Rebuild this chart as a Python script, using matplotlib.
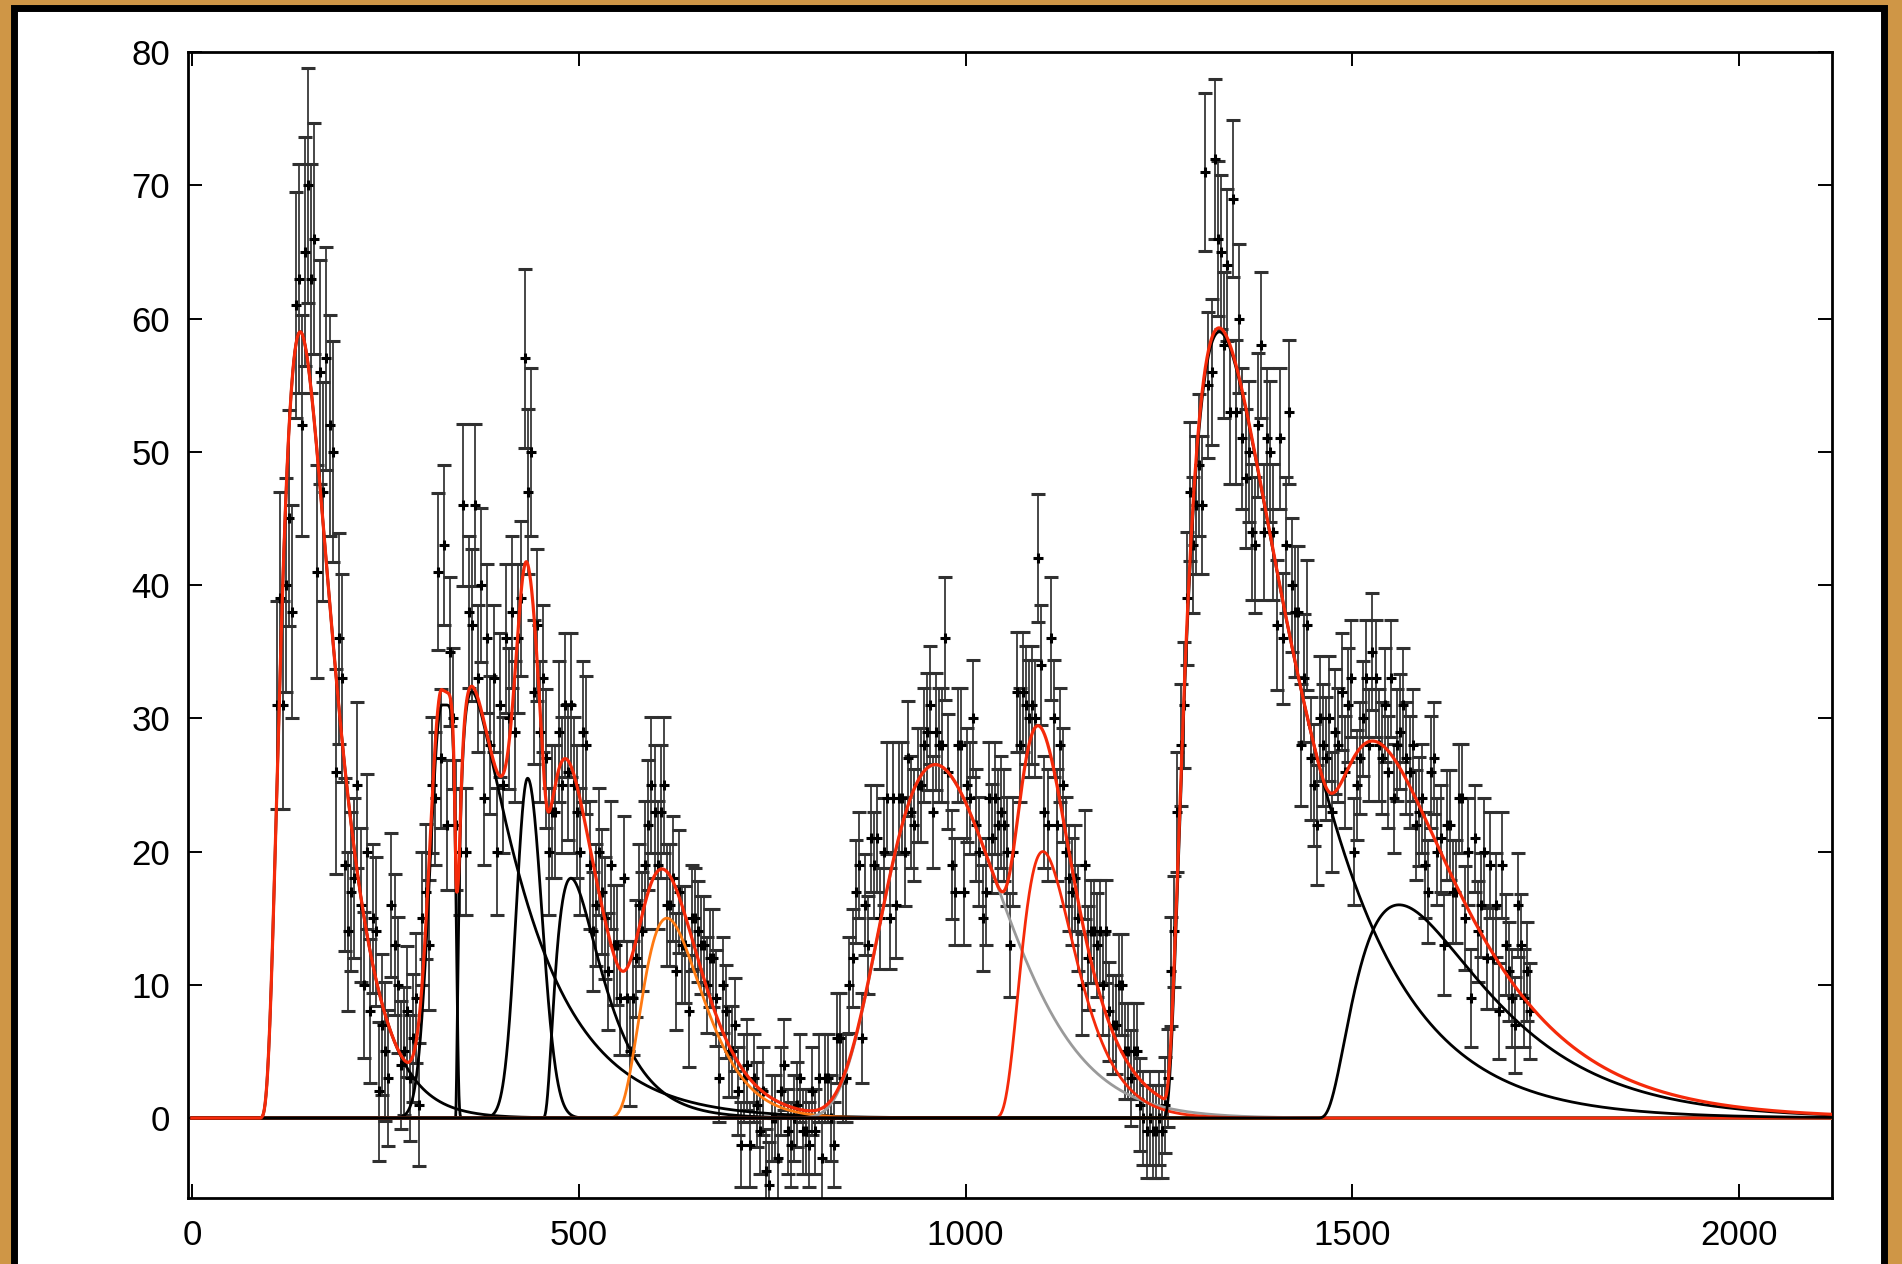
import numpy as np
import matplotlib.pyplot as plt
from matplotlib.patches import Rectangle

plt.rcParams['font.family'] = ['Liberation Sans', 'DejaVu Sans']

# binned light curve: first bin centre and bin width
bin_start = 110
bin_width = 4

counts = [
    # 110 - 206
    31, 39, 31, 40, 45, 38, 61, 63, 52, 65, 70, 63, 66, 41, 56, 47, 57, 52, 50, 26, 36, 33, 19, 14, 17,
    # 210 - 306
    18, 25, 16, 10, 20, 8, 15, 14, 2, 7, 5, 3, 16, 13, 10, 4, 5, 8, 3, 6, 9, 1, 15, 17, 13,
    # 310 - 406
    25, 24, 41, 27, 43, 22, 35, 30, 22, 20, 46, 20, 38, 37, 46, 33, 40, 24, 36, 28, 33, 20, 31, 25, 36,
    # 410 - 506
    30, 38, 29, 36, 39, 57, 47, 50, 32, 37, 29, 33, 27, 20, 23, 23, 29, 25, 31, 26, 31, 25, 23, 20, 29,
    # 510 - 606
    28, 19, 14, 16, 20, 17, 15, 11, 19, 13, 13, 9, 18, 9, 5, 9, 12, 16, 14, 19, 22, 25, 23, 19, 23,
    # 610 - 706
    25, 16, 16, 18, 11, 17, 13, 13, 8, 15, 15, 14, 13, 13, 10, 12, 12, 9, 3, 10, 8, 5, 5, 7, 2,
    # 710 - 806
    -2, 3, 4, -2, 3, 1, -1, 2, -4, -5, 0, 0, -3, 2, 4, -1, -2, 0, 1, 3, -1, -1, -2, 2, -1,
    # 810 - 906
    3, -3, 3, 3, 0, -2, 6, 6, 3, 3, 10, 12, 17, 19, 6, 16, 13, 21, 19, 21, 15, 20, 24, 15, 24,
    # 910 - 1006
    16, 24, 24, 20, 27, 23, 22, 25, 25, 28, 29, 31, 23, 29, 28, 28, 36, 26, 19, 17, 28, 28, 17, 25, 24,
    # 1010 - 1106
    30, 22, 20, 15, 17, 24, 21, 24, 22, 23, 22, 20, 13, 20, 32, 28, 32, 31, 30, 31, 30, 42, 34, 23, 22,
    # 1110 - 1206
    36, 30, 22, 28, 25, 20, 18, 17, 18, 15, 10, 19, 12, 14, 14, 13, 14, 10, 14, 8, 7, 7, 10, 10, 5,
    # 1210 - 1306
    5, 3, 5, 5, 1, 0, -1, 0, -1, -1, 0, -1, 1, 3, 11, 14, 23, 28, 31, 39, 47, 43, 46, 49, 46,
    # 1310 - 1406
    71, 55, 56, 72, 66, 65, 58, 64, 53, 69, 53, 60, 51, 48, 50, 44, 43, 52, 58, 44, 51, 50, 44, 37, 51,
    # 1410 - 1506
    36, 43, 53, 40, 38, 38, 28, 33, 37, 27, 25, 22, 30, 28, 27, 30, 23, 29, 28, 32, 26, 31, 33, 20, 25,
    # 1510 - 1606
    27, 30, 33, 28, 35, 33, 28, 27, 31, 26, 33, 24, 28, 29, 31, 27, 26, 28, 22, 23, 24, 19, 17, 26, 27,
    # 1610 - 1706
    20, 21, 13, 22, 22, 17, 17, 24, 24, 15, 20, 9, 21, 14, 16, 20, 12, 19, 12, 16, 8, 19, 13, 11, 9,
    # 1710 - 1730
    7, 16, 13, 9, 11, 8,
]

count_errors = [
    7.8, 8.0, 7.8, 8.0, 8.1, 8.0, 8.5, 8.6, 8.3, 8.6, 8.8, 8.6, 8.7, 8.0, 8.4, 8.2, 8.4, 8.3, 8.3, 7.7, 7.9, 7.8, 6.5, 6.0, 6.0,
    6.0, 6.2, 5.8, 5.5, 5.8, 5.4, 5.6, 5.6, 5.2, 5.3, 5.2, 5.1, 5.4, 5.3, 5.1, 4.8, 4.8, 4.9, 4.7, 4.8, 4.9, 4.6, 5.0, 5.1, 4.9,
    5.1, 5.0, 5.9, 5.2, 6.0, 4.9, 5.6, 5.3, 4.9, 4.8, 6.1, 4.8, 5.7, 5.7, 6.1, 5.5, 5.8, 5.0, 5.6, 5.2, 5.5, 4.8, 5.4, 5.1, 5.6,
    5.3, 5.7, 5.3, 5.6, 5.8, 6.7, 6.2, 6.3, 5.4, 5.7, 5.3, 5.5, 5.2, 4.8, 5.0, 5.0, 5.3, 5.1, 5.4, 5.1, 5.4, 5.1, 5.0, 4.8, 5.3,
    5.2, 4.8, 4.5, 4.6, 4.8, 4.7, 4.6, 4.4, 4.8, 4.5, 4.5, 4.3, 4.7, 4.3, 4.1, 4.3, 4.4, 4.6, 4.5, 4.8, 4.9, 5.1, 5.0, 4.8, 5.0,
    5.1, 4.6, 4.6, 4.7, 4.4, 4.6, 4.4, 4.4, 4.2, 4.0, 3.8, 3.8, 3.7, 3.7, 3.6, 3.7, 3.7, 3.6, 3.3, 3.6, 3.5, 3.4, 3.4, 3.5, 3.3,
    3.2, 3.3, 3.4, 3.2, 3.3, 3.2, 3.2, 3.3, 3.2, 3.2, 3.2, 3.2, 3.2, 3.3, 3.4, 3.2, 3.2, 3.2, 3.2, 3.3, 3.2, 3.2, 3.2, 3.3, 3.2,
    3.3, 3.2, 3.3, 3.3, 3.2, 3.2, 3.4, 3.4, 3.3, 3.3, 3.6, 3.7, 3.9, 4.0, 3.4, 3.8, 3.7, 4.0, 4.0, 4.0, 3.8, 4.0, 4.2, 3.8, 4.2,
    4.0, 4.2, 4.2, 4.1, 4.3, 4.2, 4.2, 4.3, 4.3, 4.3, 4.4, 4.4, 4.2, 4.4, 4.3, 4.3, 4.6, 4.3, 4.1, 4.0, 4.3, 4.3, 4.0, 4.3, 4.2,
    4.4, 4.2, 4.1, 4.0, 4.0, 4.2, 4.1, 4.2, 4.2, 4.2, 4.2, 4.1, 3.9, 4.1, 4.5, 4.3, 4.5, 4.4, 4.4, 4.4, 4.4, 4.8, 4.5, 4.2, 4.2,
    4.6, 4.4, 4.2, 4.3, 4.3, 4.1, 4.0, 4.0, 4.0, 4.0, 3.8, 4.1, 3.9, 3.9, 3.9, 3.9, 3.9, 3.8, 3.9, 3.7, 3.7, 3.7, 3.8, 3.8, 3.6,
    3.6, 3.6, 3.6, 3.6, 3.5, 3.5, 3.5, 3.5, 3.5, 3.5, 3.5, 3.5, 3.6, 3.7, 4.1, 4.2, 4.5, 4.6, 4.7, 5.0, 5.2, 5.1, 5.2, 5.3, 5.2,
    5.9, 5.5, 5.5, 6.0, 5.8, 5.8, 5.5, 5.7, 5.4, 5.9, 5.4, 5.6, 5.3, 5.2, 5.3, 5.1, 5.1, 5.4, 5.5, 5.1, 5.3, 5.3, 5.1, 4.9, 5.3,
    4.9, 5.1, 5.4, 5.0, 4.9, 4.9, 4.6, 4.8, 4.9, 4.6, 4.6, 4.5, 4.7, 4.6, 4.6, 4.7, 4.5, 4.7, 4.3, 4.4, 4.2, 4.3, 4.4, 4.0, 4.1,
    4.2, 4.3, 4.4, 4.2, 4.4, 4.4, 4.2, 4.2, 4.3, 4.2, 4.4, 4.1, 4.2, 4.3, 4.3, 4.2, 4.2, 4.2, 4.1, 4.1, 4.1, 4.0, 3.9, 4.2, 4.2,
    4.0, 4.0, 3.8, 4.1, 4.1, 3.9, 3.9, 4.1, 4.1, 3.9, 4.0, 3.7, 4.0, 3.8, 3.9, 4.0, 3.8, 4.0, 3.8, 3.9, 3.6, 4.0, 3.8, 3.7, 3.7,
    3.6, 3.9, 3.8, 3.7, 3.7, 3.6,
]

# fitted pulse components, in drawing order
# kind "norris": start, amplitude, rise, decay
# kind "bump": peak time, amplitude, rise width, decay width, decay sharpness
pulse_kind = ["norris", "bump", "norris", "bump", "norris", "norris", "norris", "norris", "norris", "norris"]
pulse_p1 = [80, 323, 340, 434, 450, 515, 700, 1022, 1250, 1445]
pulse_p2 = [59, 31, 32, 25.5, 18, 15, 26.5, 20, 59, 16]
pulse_p3 = [103, 21.6, 6, 21, 40, 327, 1514, 203, 61, 121]
pulse_p4 = [35, 19.5, 80, 26, 40, 30, 45, 30, 100, 110]
pulse_p5 = [0, 8, 0, 2, 0, 0, 0, 0, 0, 0]
pulse_color = ["black", "black", "black", "black", "black", "#ff7a12", "#9a9a9a", "#f52a0a", "black", "black"]

total_color = "#f52a0a"


def norris(t, start, amp, rise, decay):
    dt = np.clip(t - start, 1e-9, None)
    lam = np.exp(2.0 * np.sqrt(rise / decay))
    value = amp * lam * np.exp(-rise / dt - dt / decay)
    return np.where(t > start, value, 0.0)


def bump(t, peak, amp, rise_w, decay_w, sharp):
    left = amp * np.exp(-((peak - t) / rise_w) ** 2)
    right = amp * np.exp(-(np.abs(t - peak) / decay_w) ** sharp)
    return np.where(t < peak, left, right)


def main():
    fig = plt.figure(figsize=(19.02, 12.64), dpi=100)
    fig.patch.set_facecolor("#cf9646")

    # white card with a black rim, kept behind the axes
    card = Rectangle((14 / 1902, -0.02), (1884 - 14) / 1902, 1.02 - 8 / 1264,
                     transform=fig.transFigure, facecolor="white",
                     edgecolor="black", linewidth=5, zorder=-10)
    fig.patches.append(card)

    ax = fig.add_axes([188 / 1902, 1 - 1198 / 1264, (1832 - 188) / 1902, (1198 - 52) / 1264])
    ax.set_zorder(1)
    ax.set_facecolor("white")

    x = bin_start + bin_width * np.arange(len(counts))
    ax.errorbar(x, counts, yerr=count_errors, fmt="+", ms=7, mew=2.2, color="black",
                ecolor="#303030", elinewidth=1.25, capsize=5, capthick=1.2, zorder=2)

    t = np.linspace(0, 2120, 6000)
    total = np.zeros_like(t)
    for kind, a, b, c, d, e, color in zip(pulse_kind, pulse_p1, pulse_p2, pulse_p3,
                                          pulse_p4, pulse_p5, pulse_color):
        if kind == "norris":
            curve = norris(t, a, b, c, d)
        else:
            curve = bump(t, a, b, c, d, e)
        total += curve
        ax.plot(t, curve, color=color, lw=2.0, zorder=3)

    ax.plot(t, total, color=total_color, lw=2.3, zorder=4)

    ax.set_xlim(-5, 2120)
    ax.set_ylim(-6, 80)
    ax.set_xticks([0, 500, 1000, 1500, 2000])
    ax.set_yticks(range(0, 81, 10))

    ax.tick_params(direction="in", length=10, width=1.4, top=True, right=True, labelsize=25)
    ax.tick_params(axis="y", pad=13)
    ax.tick_params(axis="x", pad=15)
    for spine in ax.spines.values():
        spine.set_linewidth(2.0)

    fig.savefig("out.png", dpi=100, facecolor=fig.get_facecolor())


if __name__ == "__main__":
    main()
